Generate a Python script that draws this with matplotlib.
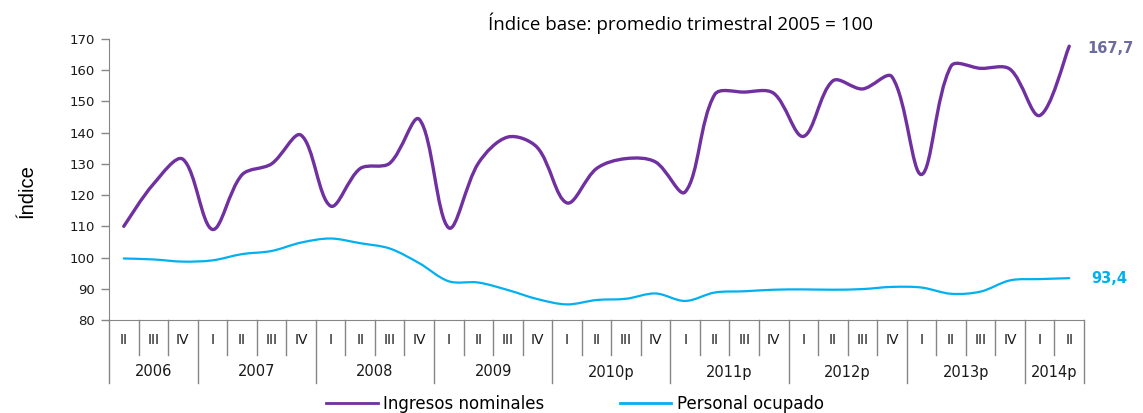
import matplotlib.pyplot as plt
from matplotlib.path import Path
from matplotlib.patches import PathPatch
from matplotlib.lines import Line2D
import matplotlib.transforms as mtransforms
import numpy as np

quarters = ["II", "III", "IV"] + ["I", "II", "III", "IV"] * 7 + ["I", "II"]
years = ["2006", "2007", "2008", "2009", "2010p", "2011p", "2012p", "2013p", "2014p"]
year_counts = [3, 4, 4, 4, 4, 4, 4, 4, 2]

ingresos = [110, 123.5, 131.5, 109, 126.5, 130, 139.2, 116.5, 128.5, 130.2, 144.3,
            109.5, 130.2, 138.6, 135.2, 117.5, 128.5, 131.7, 130.6, 121,
            152.2, 153, 152.6, 138.8, 156.6, 154, 157.9, 126.6, 161.3, 160.6,
            160.3, 145.5, 167.7]
personal = [99.7, 99.4, 98.7, 99.1, 101.1, 102.1, 104.8, 106.1, 104.6, 102.9, 98.2,
            92.4, 92.0, 89.6, 86.7, 85.0, 86.4, 86.8, 88.5, 86.1,
            88.8, 89.2, 89.7, 89.8, 89.7, 89.9, 90.6, 90.4, 88.4, 89.1,
            92.7, 93.1, 93.4]

purple = "#7030A0"
cyan = "#00B0F0"
grey = "#868686"


def smooth_path(ax, ys):
    # bezier through the points, control arms weighted by screen distance
    # (close to Excel's "smoothed line")
    pts = ax.transData.transform(np.column_stack([np.arange(len(ys)), ys]))
    m = len(pts)
    verts = [pts[0]]
    codes = [Path.MOVETO]
    for i in range(m - 1):
        p0 = pts[max(i - 1, 0)]
        p1 = pts[i]
        p2 = pts[i + 1]
        p3 = pts[min(i + 2, m - 1)]
        d01 = np.hypot(*(p1 - p0))
        d12 = np.hypot(*(p2 - p1))
        d23 = np.hypot(*(p3 - p2))
        c1 = p1 + (p2 - p0) * (d12 / (d01 + d12) / 3 if d01 > 0 else 1 / 6)
        c2 = p2 - (p3 - p1) * (d12 / (d12 + d23) / 3 if d23 > 0 else 1 / 6)
        verts += [c1, c2, p2]
        codes += [Path.CURVE4] * 3
    return Path(ax.transData.inverted().transform(np.array(verts)), codes)


fig = plt.figure(figsize=(11.43, 4.13), dpi=100)
ax = fig.add_axes([109 / 1143, (413 - 320) / 413, (1084 - 109) / 1143, 281 / 413])

n = len(quarters)
ax.set_xlim(-0.5, n - 0.5)
ax.set_ylim(80, 170)

ax.add_patch(PathPatch(smooth_path(ax, ingresos), fill=False, edgecolor=purple, lw=2.4,
                       capstyle="round", joinstyle="round"))
ax.add_patch(PathPatch(smooth_path(ax, personal), fill=False, edgecolor=cyan, lw=1.6,
                       capstyle="round", joinstyle="round"))

ax.set_yticks(range(80, 171, 10))
ax.set_xticks([])
for s in ["top", "right"]:
    ax.spines[s].set_visible(False)
for s in ["left", "bottom"]:
    ax.spines[s].set_color(grey)
ax.tick_params(axis="y", colors=grey, length=6, width=1, labelsize=9.5,
               labelcolor="#1a1a1a", pad=4)

# two-level category axis
trans = mtransforms.blended_transform_factory(ax.transData, ax.transAxes)
qh = -35 / 281
yh = -63 / 281
for i, q in enumerate(quarters):
    ax.text(i, -20 / 281, q, transform=trans, ha="center", va="center",
            fontsize=10, color="#1a1a1a")
bounds = [-0.5]
for c in year_counts:
    bounds.append(bounds[-1] + c)
year_edges = set(bounds)
for b in [k - 0.5 for k in range(n + 1)]:
    low = yh if b in year_edges else qh
    ax.add_line(Line2D([b, b], [0, low], transform=trans, color=grey, lw=1,
                       clip_on=False))
for k, y in enumerate(years):
    mid = (bounds[k] + bounds[k + 1]) / 2
    ax.text(mid, -52 / 281, y, transform=trans, ha="center", va="center",
            fontsize=10.5, color="#1a1a1a")

# end labels
ax.text(n - 0.5 + 0.1, ingresos[-1] - 0.8, "167,7", fontsize=10.5, fontweight="bold",
        color="#6B6B9E", va="center", ha="left", clip_on=False)
ax.text(n - 0.5 + 0.25, personal[-1], "93,4", fontsize=10.5, fontweight="bold",
        color=cyan, va="center", ha="left", clip_on=False)

ax.set_ylabel("Índice", family=["Liberation Sans", "DejaVu Sans"], fontsize=14.5)
ax.yaxis.set_label_coords(-72 / 975, 0.46)

fig.text(681 / 1143, 1 - 23 / 413, "Índice base: promedio trimestral 2005 = 100",
         ha="center", va="center", fontsize=13.5, family=["Open Sans", "DejaVu Sans"])

handles = [Line2D([], [], color=purple, lw=2),
           Line2D([], [], color=cyan, lw=2)]
fig.legend(handles, ["Ingresos nominales", "Personal ocupado"], ncol=2,
           loc="center", bbox_to_anchor=(575 / 1143, 1 - 404 / 413), frameon=False,
           fontsize=12, handlelength=3.1, columnspacing=4.5, handletextpad=0.35)

fig.savefig("out.png", dpi=100)
